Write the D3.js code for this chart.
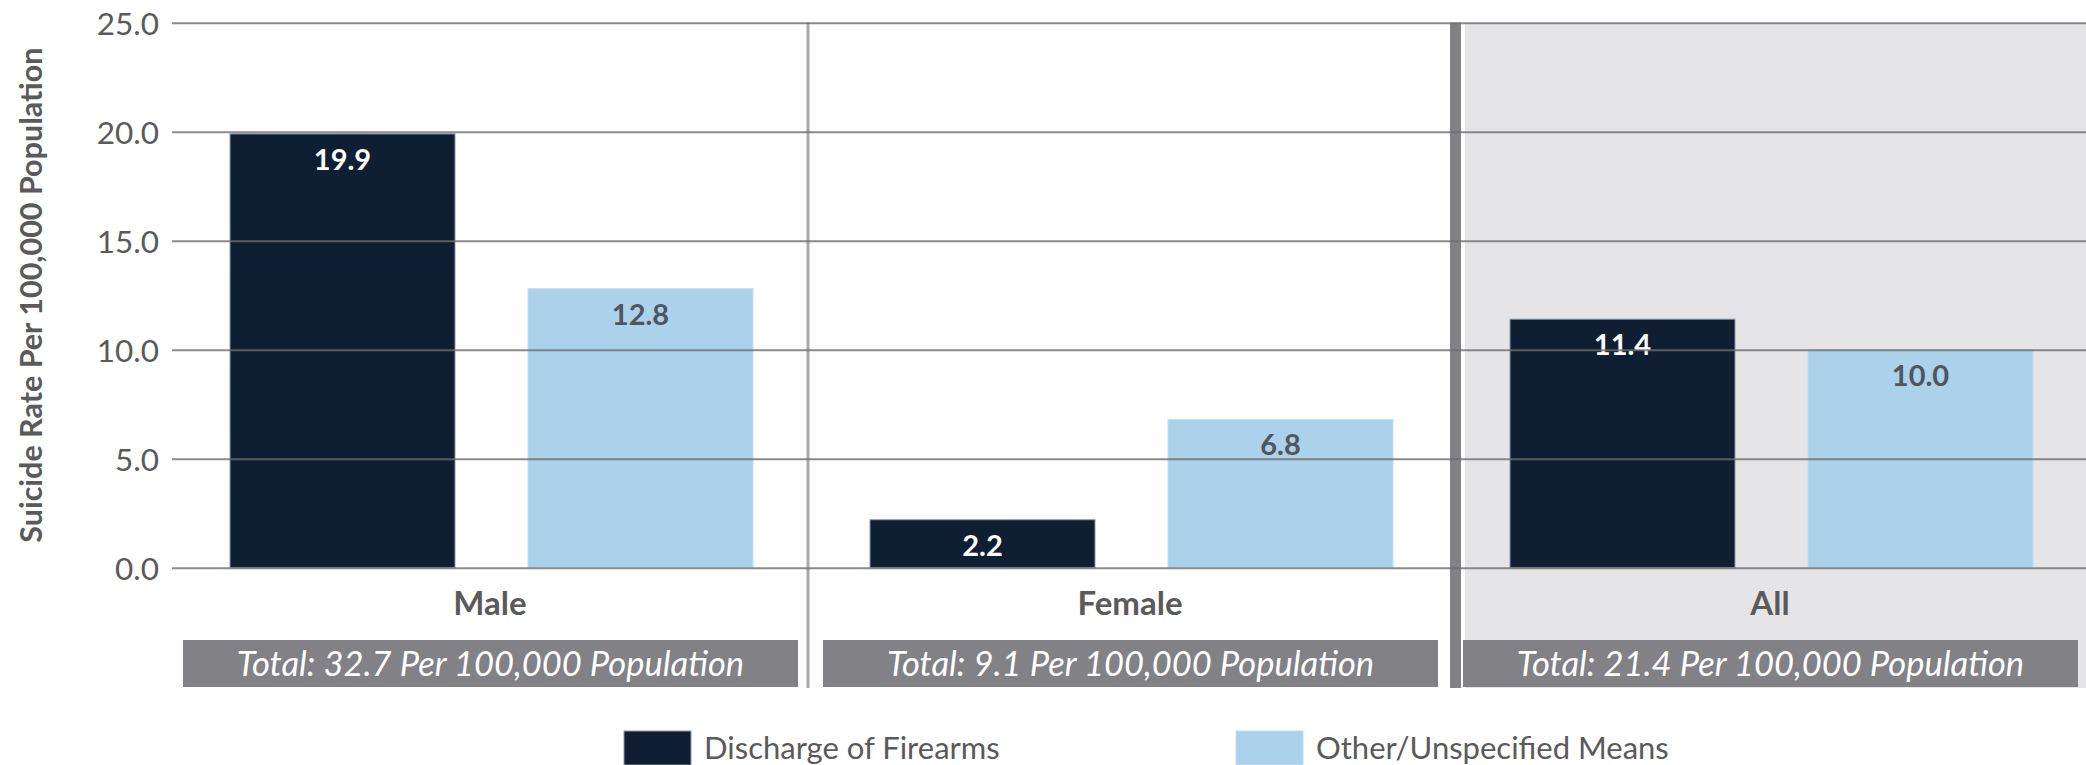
<!DOCTYPE html>
<html>
<head>
<meta charset="utf-8">
<script src="https://cdn.jsdelivr.net/npm/d3@7"></script>
<style>
  html, body { margin: 0; padding: 0; background: #ffffff; }
  svg { display: block; font-family: Lato, "Open Sans", sans-serif; }
</style>
</head>
<body>
<svg id="chart" width="2086" height="765"></svg>
<script>
// ---- data ----
const categories = ["Male", "Female", "All"];
const seriesNames = ["Discharge of Firearms", "Other/Unspecified Means"];
const firearmsValues = [19.9, 2.2, 11.4];
const otherValues = [12.8, 6.8, 10.0];
const totalValues = [32.7, 9.1, 21.4];
const yTickValues = [0, 5, 10, 15, 20, 25];
const yAxisTitle = "Suicide Rate Per 100,000 Population";

// ---- styles ----
const colDark = "#0f1e32";
const colLight = "#abd1eb";
const textGrey = "#5a5a5a";

const W = 2086, H = 765;
const svg = d3.select("#chart");

const y = d3.scaleLinear().domain([0, 25]).range([567.7, 22.7]);
const x0 = d3.scaleBand().domain(categories).range([170, 2090]);
const x1 = d3.scaleBand().domain(seriesNames).range([60, 583]).paddingInner(0.245);
const color = d3.scaleOrdinal().domain(seriesNames).range([colDark, colLight]);
const labelColor = d3.scaleOrdinal().domain(seriesNames).range(["#ffffff", "#4f565e"]);
const strokeColor = d3.scaleOrdinal().domain(seriesNames).range(["#8f99a6", "#c4def0"]);

const rows = categories.map((c, i) => ({
  cat: c,
  total: totalValues[i],
  vals: [
    { s: seriesNames[0], v: firearmsValues[i] },
    { s: seriesNames[1], v: otherValues[i] }
  ]
}));

const step = x0.step();
const yTop = y(25), bottomPanel = 688;

// grey background for "All" panel
svg.append("rect")
  .attr("x", x0("All") + 15).attr("y", yTop)
  .attr("width", W - (x0("All") + 15)).attr("height", bottomPanel - yTop)
  .attr("fill", "#e5e5e8");

// dividers
svg.append("rect")
  .attr("x", x0("Female") - 3.5).attr("y", yTop)
  .attr("width", 3).attr("height", bottomPanel - yTop)
  .attr("fill", "#a9a9a9");
svg.append("rect")
  .attr("x", x0("All")).attr("y", yTop)
  .attr("width", 11).attr("height", bottomPanel - yTop)
  .attr("fill", "#818186");

// bars
const groups = svg.append("g").selectAll("g").data(rows).join("g")
  .attr("transform", d => `translate(${x0(d.cat)},0)`);

groups.selectAll("rect").data(d => d.vals).join("rect")
  .attr("x", d => x1(d.s))
  .attr("y", d => y(d.v))
  .attr("width", x1.bandwidth())
  .attr("height", d => y(0) - y(d.v))
  .attr("fill", d => color(d.s))
  .attr("stroke", d => strokeColor(d.s))
  .attr("stroke-width", 1);

// gridlines (over bars)
const yAxis = d3.axisLeft(y).tickValues(yTickValues)
  .tickFormat(d3.format(".1f"))
  .tickSize(-(W - 172)).tickPadding(13);
const gAxis = svg.append("g").attr("transform", "translate(172,0)").call(yAxis);
gAxis.select(".domain").remove();
gAxis.selectAll(".tick line").attr("stroke", "#6e6e6e").attr("stroke-opacity", 0.8).attr("stroke-width", 2);
gAxis.selectAll(".tick text")
  .attr("font-family", "Lato").attr("font-size", 31.5).attr("fill", textGrey)
  .attr("dy", "0.36em");

// value labels
groups.selectAll("text.val").data(d => d.vals).join("text")
  .attr("class", "val")
  .attr("x", d => x1(d.s) + x1.bandwidth() / 2)
  .attr("y", d => y(d.v) + 36)
  .attr("text-anchor", "middle")
  .attr("font-size", 29).attr("font-weight", 700)
  .attr("fill", d => labelColor(d.s))
  .text(d => d3.format(".1f")(d.v));

// category labels
svg.append("g").selectAll("text").data(rows).join("text")
  .attr("x", d => x0(d.cat) + step / 2)
  .attr("y", 615)
  .attr("text-anchor", "middle")
  .attr("font-size", 33).attr("font-weight", 700)
  .attr("fill", textGrey)
  .text(d => d.cat);

// total boxes
const boxes = svg.append("g").selectAll("g").data(rows).join("g");
boxes.append("rect")
  .attr("x", d => x0(d.cat) + 13).attr("y", 640)
  .attr("width", step - 25).attr("height", 47)
  .attr("fill", "#818186");
boxes.append("text")
  .attr("x", d => x0(d.cat) + 13 + (step - 25) / 2)
  .attr("y", 676)
  .attr("text-anchor", "middle")
  .attr("font-size", 34.5).attr("font-style", "italic")
  .attr("fill", "#ffffff")
  .text(d => `Total: ${d3.format(".1f")(d.total)} Per 100,000 Population`);

// y-axis title
svg.append("text")
  .attr("transform", `translate(42,${(y(0) + y(25)) / 2}) rotate(-90)`)
  .attr("text-anchor", "middle")
  .attr("font-size", 30.5).attr("font-weight", 700)
  .attr("fill", textGrey)
  .text(yAxisTitle);

// legend
const legendX = [624, 1236];
const legend = svg.append("g").selectAll("g").data(seriesNames).join("g")
  .attr("transform", (d, i) => `translate(${legendX[i]},731)`);
legend.append("rect")
  .attr("width", 67).attr("height", 34)
  .attr("fill", d => color(d))
  .attr("stroke", d => strokeColor(d)).attr("stroke-width", 1);
legend.append("text")
  .attr("x", 80).attr("y", 28)
  .attr("font-size", 31)
  .attr("fill", textGrey)
  .text(d => d);
</script>
</body>
</html>
